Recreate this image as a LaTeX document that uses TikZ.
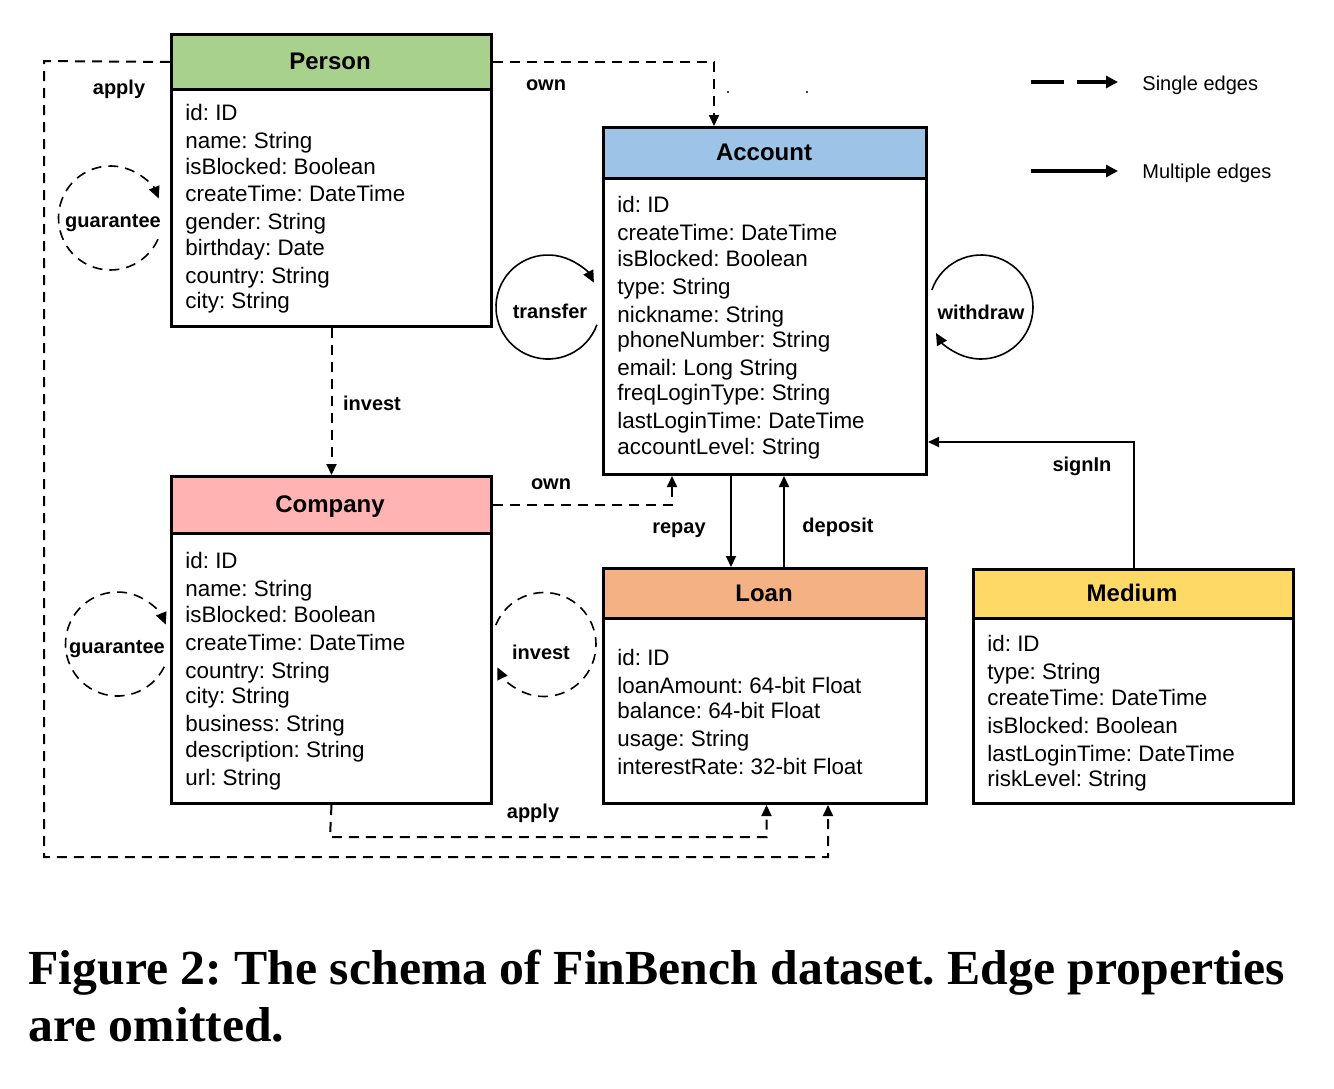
\documentclass[tikz,border=0pt]{standalone}
\usepackage{fontspec}
\setmainfont{Liberation Sans}
\newfontfamily\capfont{Liberation Serif}
\usetikzlibrary{arrows.meta,calc}
\definecolor{cperson}{RGB}{169,209,142}
\definecolor{caccount}{RGB}{157,195,230}
\definecolor{ccompany}{RGB}{255,179,179}
\definecolor{cloan}{RGB}{244,177,131}
\definecolor{cmedium}{RGB}{255,217,102}
\frenchspacing
\begin{document}
\begin{tikzpicture}[x=0.5pt,y=-0.5pt,
  box/.style={draw, line width=1.5pt, anchor=north west, inner sep=0pt},
  prop/.style={anchor=base west, inner sep=0pt, font=\fontsize{11.2}{13}\selectfont},
  ttl/.style={anchor=base, inner sep=0pt, font=\bfseries\fontsize{12}{14}\selectfont},
  lbl/.style={anchor=base, inner sep=0pt, font=\bfseries\fontsize{10}{12}\selectfont},
  legt/.style={anchor=base west, inner sep=0pt, font=\fontsize{10}{12}\selectfont},
  tip/.style={-{Triangle[length=5.5pt,width=5pt]}},
  single/.style={line width=1pt, dash pattern=on 5pt off 3.5pt, tip},
  multi/.style={line width=1pt, tip},
  loopd/.style={line width=0.8pt, dash pattern=on 5pt off 3.5pt, -{Triangle[length=6pt,width=5.5pt]}},
  loops/.style={line width=0.8pt, -{Triangle[length=6pt,width=5.5pt]}},
  legd/.style={line width=1.75pt, dash pattern=on 16.5pt off 6.5pt, -{Triangle[length=6pt,width=6pt]}},
  legm/.style={line width=1.75pt, -{Triangle[length=6pt,width=6pt]}},
  capt/.style={anchor=base west, inner sep=0pt, font=\capfont\bfseries\fontsize{24.5}{29.5}\selectfont}
]
\useasboundingbox (0,0) rectangle (1334,1088);

% ---------- boxes ----------
\node[box, fill=cperson, minimum width=160pt, minimum height=27.5pt] (personh) at (170,33) {};
\node[box, minimum width=160pt, minimum height=118.5pt] (personb) at (170,88) {};
\node[box, fill=caccount, minimum width=161.5pt, minimum height=25.5pt] (acch) at (602,126) {};
\node[box, minimum width=161.5pt, minimum height=148pt] (accb) at (602,177) {};
\node[box, fill=ccompany, minimum width=160pt, minimum height=28.5pt] (comph) at (170,475) {};
\node[box, minimum width=160pt, minimum height=135pt] (compb) at (170,532) {};
\node[box, fill=cloan, minimum width=161.5pt, minimum height=25pt] (loanh) at (602,567) {};
\node[box, minimum width=161.5pt, minimum height=92.5pt] (loanb) at (602,617) {};
\node[box, fill=cmedium, minimum width=160pt, minimum height=24.5pt] (medh) at (972,568) {};
\node[box, minimum width=160pt, minimum height=92.5pt] (medb) at (972,617) {};

% ---------- titles ----------
\node[ttl] (tperson) at (330,69) {Person};
\node[ttl] (taccount) at (764,160) {Account};
\node[ttl] (tcompany) at (330,512) {Company};
\node[ttl] (tloan) at (764,601) {Loan};
\node[ttl] (tmedium) at (1132,601) {Medium};

% ---------- properties ----------
\node[prop] (p1) at (185,120) {id: ID};
\node[prop] (p2) at (185,148) {name: String};
\node[prop] (p3) at (185,174) {isBlocked: Boolean};
\node[prop] (p4) at (185,201) {createTime: DateTime};
\node[prop] (p5) at (185,229) {gender: String};
\node[prop] (p6) at (185,255) {birthday: Date};
\node[prop] (p7) at (185,283) {country: String};
\node[prop] (p8) at (185,308) {city: String};

\node[prop] (a1) at (617,212) {id: ID};
\node[prop] (a2) at (617,240) {createTime: DateTime};
\node[prop] (a3) at (617,266) {isBlocked: Boolean};
\node[prop] (a4) at (617,294) {type: String};
\node[prop] (a5) at (617,322) {nickname: String};
\node[prop] (a6) at (617,347) {phoneNumber: String};
\node[prop] (a7) at (617,375) {email: Long String};
\node[prop] (a8) at (617,400) {freqLoginType: String};
\node[prop] (a9) at (617,428) {lastLoginTime: DateTime};
\node[prop] (a10) at (617,454) {accountLevel: String};

\node[prop] (c1) at (185,568) {id: ID};
\node[prop] (c2) at (185,596) {name: String};
\node[prop] (c3) at (185,622) {isBlocked: Boolean};
\node[prop] (c4) at (185,650) {createTime: DateTime};
\node[prop] (c5) at (185,678) {country: String};
\node[prop] (c6) at (185,703) {city: String};
\node[prop] (c7) at (185,731) {business: String};
\node[prop] (c8) at (185,757) {description: String};
\node[prop] (c9) at (185,785) {url: String};

\node[prop] (l1) at (617,665) {id: ID};
\node[prop] (l2) at (617,693) {loanAmount: 64-bit Float};
\node[prop] (l3) at (617,718) {balance: 64-bit Float};
\node[prop] (l4) at (617,746) {usage: String};
\node[prop] (l5) at (617,774) {interestRate: 32-bit Float};

\node[prop] (m1) at (987,651) {id: ID};
\node[prop] (m2) at (987,679) {type: String};
\node[prop] (m3) at (987,705) {createTime: DateTime};
\node[prop] (m4) at (987,733) {isBlocked: Boolean};
\node[prop] (m5) at (987,761) {lastLoginTime: DateTime};
\node[prop] (m6) at (987,786) {riskLevel: String};

% ---------- connectors ----------
% Person -own-> Account
\draw[single] (personh.east) -| ([xshift=-25.5pt]acch.north);
\node[lbl] (lown1) at (546,90) {own};
% Person -apply-> Loan
\coordinate (ap1) at (44,61);
\coordinate (ap2) at (44,857);
\coordinate (ap3) at (828,857);
\draw[single] (personh.west) -- (ap1) -- (ap2) -- (ap3) -- (ap3 |- loanb.south);
\node[lbl] (lapply1) at (119,94) {apply};
% Person -invest-> Company
\draw[single] (personb.south) -- (comph.north);
\node[lbl] (linvest1) at (372,410) {invest};
% Company -own-> Account
\draw[single] (comph.east) -| ([xshift=-46.5pt]accb.south);
\node[lbl] (lown2) at (551,489) {own};
% Account -repay-> Loan, Loan -deposit-> Account
\draw[multi] ([xshift=-17pt]accb.south) -- ([xshift=-17pt]loanh.north);
\node[lbl] (lrepay) at (679,533) {repay};
\draw[multi] ([xshift=9.5pt]loanh.north) -- ([xshift=9.5pt]accb.south);
\node[lbl] (ldeposit) at (838,532) {deposit};
% Medium -signIn-> Account
\draw[multi] (medh.north) |- ([yshift=17pt]accb.south east);
\node[lbl] (lsignin) at (1082,471) {signIn};
% Company -apply-> Loan
\coordinate (cp1) at (330,837);
\draw[single] (compb.south) -- (cp1) -| ([xshift=0.75pt]loanb.south);
\node[lbl] (lapply2) at (533,818) {apply};

% ---------- self loops ----------
\coordinate (gl1) at (110.5,218);
\draw[loopd] ([shift={(-24:26pt)}]gl1) arc[start angle=-24, end angle=-338, radius=26pt];
\node[lbl] (lguar1) at (113,227) {guarantee};

\coordinate (gl2) at (117.5,644);
\draw[loopd] ([shift={(-26:26pt)}]gl2) arc[start angle=-26, end angle=-338, radius=26pt];
\node[lbl] (lguar2) at (117,653) {guarantee};

\coordinate (il) at (544,644.5);
\draw[loopd] ([shift={(158:26pt)}]il) arc[start angle=158, end angle=-154, radius=26pt];
\node[lbl] (linvest2) at (541,659) {invest};

\coordinate (tl) at (548,307);
\draw[loops] ([shift={(-20:26pt)}]tl) arc[start angle=-20, end angle=-332, radius=26pt];
\node[lbl] (ltransfer) at (550,318) {transfer};

\coordinate (wl) at (981,307);
\draw[loops] ([shift={(161:26pt)}]wl) arc[start angle=161, end angle=-150, radius=26pt];
\node[lbl] (lwithdraw) at (981,319) {withdraw};

% small dots
\fill (728,92) circle[radius=0.6pt];
\fill (807,92) circle[radius=0.6pt];

% ---------- legend ----------
\coordinate (ls1) at (1031,82);
\coordinate (ls2) at (1118,82);
\draw[legd] (ls1) -- (ls2);
\node[legt] (lsingle) at (1142,90) {Single edges};
\coordinate (lm1) at (1031,171);
\coordinate (lm2) at (1118,171);
\draw[legm] (lm1) -- (lm2);
\node[legt] (lmulti) at (1142,178) {Multiple edges};

% ---------- caption ----------
\node[capt] (cap1) at (28,984) {\scalebox{1.015}[1]{Figure 2: The schema of FinBench dataset. Edge properties}};
\node[capt] (cap2) at (28,1041) {\scalebox{1.015}[1]{are omitted.}};
\end{tikzpicture}
\end{document}
